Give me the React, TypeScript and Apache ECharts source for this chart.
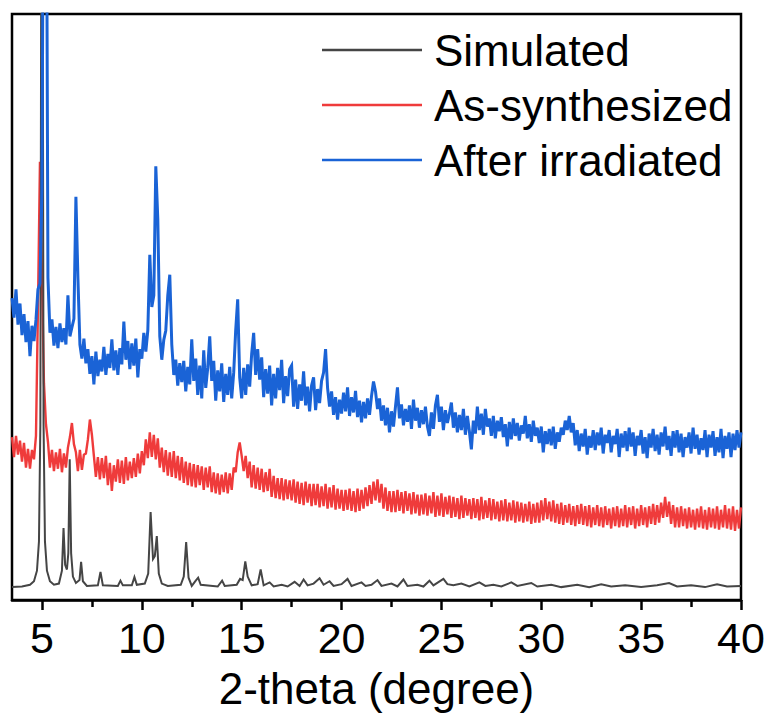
import React, { useEffect, useRef } from "react";
import * as echarts from "echarts";

const FONT = "'Liberation Sans', Arial, sans-serif";
const X_TICKS = [5, 10, 15, 20, 25, 30, 35, 40];
const X_MINOR_TICKS = [7.5, 12.5, 17.5, 22.5, 27.5, 32.5, 37.5];
const SERIES_NAMES = ["Simulated", "As-synthesized", "After irradiated"];
const SERIES_COLORS = ["#454545", "#ef3b3b", "#1a63d6"];
const X_TITLE = "2-theta (degree)";

// measured scans: sampled every 0.1 degree from 3.5 to 40
const SCAN_START = 3.5;
const SCAN_STEP = 0.1;

// simulated pattern: [2-theta, intensity]
const simulated: [number, number][] = [
  [3.5, 2.2], [4.0, 2.3], [4.4, 2.6], [4.6, 3.2], [4.75, 5.0], [4.85, 10], [4.92, 30], [4.97, 120],
  [5.0, 200], [5.03, 120], [5.08, 30], [5.15, 10], [5.25, 5.0], [5.4, 3.2], [5.6, 2.6], [5.85, 2.8],
  [6.0, 5.0], [6.08, 12.3], [6.16, 6.0], [6.25, 5.2], [6.32, 8.0], [6.39, 24.0], [6.46, 8.0], [6.55, 4.0],
  [6.7, 2.9], [6.88, 3.4], [6.96, 6.5], [7.05, 3.2], [7.25, 2.4], [7.8, 2.5], [7.93, 4.8], [8.05, 2.5],
  [8.8, 2.4], [8.93, 3.3], [9.05, 2.5], [9.5, 2.5], [9.63, 3.9], [9.75, 2.6], [10.15, 2.8], [10.32, 4.5],
  [10.44, 15.0], [10.56, 7.0], [10.65, 7.5], [10.75, 10.9], [10.85, 4.5], [11.0, 2.8], [11.3, 2.4],
  [11.95, 2.6], [12.1, 4.0], [12.22, 9.9], [12.34, 3.8], [12.5, 2.4], [12.7, 3.3], [12.82, 3.8],
  [12.95, 2.6], [13.8, 2.3], [14.02, 3.3], [14.15, 2.4], [14.75, 2.6], [14.92, 3.6], [15.05, 3.4],
  [15.18, 6.6], [15.3, 4.0], [15.5, 2.5], [15.8, 2.7], [15.95, 5.2], [16.1, 2.5], [16.4, 3.0],
  [16.6, 2.3], [17.0, 2.6], [17.3, 2.3], [17.65, 3.1], [17.9, 2.4], [18.1, 3.5], [18.3, 2.5],
  [18.6, 2.8], [18.9, 3.7], [19.1, 2.6], [19.4, 3.2], [19.6, 2.4], [20.0, 2.7], [20.3, 3.6],
  [20.5, 2.4], [21.0, 3.0], [21.2, 2.4], [21.5, 2.6], [21.8, 3.4], [22.0, 2.4], [22.5, 2.8],
  [22.8, 2.3], [23.1, 3.5], [23.3, 2.4], [23.8, 2.6], [24.1, 2.3], [24.4, 3.3], [24.6, 2.5],
  [25.1, 3.6], [25.3, 2.7], [25.6, 2.5], [26.0, 2.8], [26.4, 2.3], [26.9, 3.0], [27.2, 2.4],
  [27.6, 2.6], [28.0, 2.3], [28.5, 3.0], [28.8, 2.4], [29.5, 2.9], [29.8, 2.3], [30.5, 2.6],
  [31.0, 2.2], [31.8, 2.6], [32.4, 2.2], [33.0, 2.7], [33.5, 2.3], [34.2, 2.5], [35.0, 2.2],
  [35.8, 2.5], [36.4, 2.9], [36.8, 2.3], [37.5, 2.5], [38.2, 2.2], [38.8, 2.7], [39.3, 2.3], [40.0, 2.4],
];

// as-synthesized scan (offset upward), one value per 0.1 degree
const asSynthesized: number[] = [
  27.8, 24.4, 28.0, 24.8, 27.2, 23.6, 26.8, 22.6, 25.8, 22.4,
  25.6, 24.0, 28.0, 50.0, 74.8, 55.0, 37.0, 30.0, 27.0, 22.6,
  25.6, 22.0, 25.2, 22.4, 25.8, 21.8, 25.0, 22.6, 26.0, 27.8,
  30.2, 26.6, 25.2, 22.0, 25.6, 22.2, 24.8, 25.0, 27.4, 30.8,
  28.2, 24.6, 21.0, 24.4, 20.6, 24.2, 20.8, 24.6, 19.6, 23.4,
  18.6, 23.0, 20.2, 24.0, 20.0, 23.8, 19.8, 24.4, 20.4, 23.6,
  20.8, 24.2, 21.0, 25.0, 21.6, 25.4, 23.0, 27.4, 24.2, 28.6,
  24.4, 28.2, 24.0, 27.6, 22.6, 26.0, 21.8, 25.6, 21.2, 25.2,
  21.0, 25.4, 20.8, 24.6, 20.4, 24.4, 20.0, 23.6, 19.6, 23.4,
  19.4, 23.2, 19.2, 23.0, 19.6, 22.8, 18.8, 22.6, 19.2, 22.8,
  18.4, 21.8, 18.2, 21.6, 18.0, 21.4, 18.4, 21.8, 18.2, 21.6,
  18.8, 22.6, 21.8, 25.2, 26.9, 24.6, 22.0, 24.6, 20.8, 23.6,
  19.2, 23.0, 19.0, 22.6, 18.8, 22.4, 18.4, 21.8, 18.6, 22.4,
  17.6, 21.2, 17.4, 20.8, 17.2, 20.8, 17.0, 20.6, 17.2, 20.4,
  17.0, 20.6, 16.6, 20.2, 16.4, 20.0, 16.2, 20.2, 16.6, 19.8,
  16.0, 19.8, 16.2, 19.8, 15.8, 19.4, 16.0, 19.8, 15.6, 19.2,
  15.8, 19.6, 15.4, 19.0, 15.6, 18.8, 15.2, 18.8, 15.4, 19.0,
  15.2, 18.6, 15.0, 19.0, 15.2, 18.8, 15.6, 19.2, 16.0, 19.6,
  16.4, 20.2, 17.0, 20.6, 16.6, 19.8, 15.6, 19.2, 15.2, 18.6,
  15.0, 18.6, 15.0, 18.8, 15.2, 18.4, 14.8, 18.6, 15.2, 18.2,
  14.6, 18.4, 14.8, 18.0, 14.4, 18.0, 14.6, 18.2, 14.4, 17.8,
  14.8, 18.4, 14.2, 17.8, 14.4, 18.2, 14.2, 17.6, 14.6, 17.8,
  14.0, 17.6, 14.2, 17.4, 13.8, 17.8, 14.0, 17.4, 14.4, 17.2,
  13.8, 17.4, 14.0, 17.2, 13.6, 17.6, 13.8, 17.0, 14.0, 17.4,
  13.6, 17.2, 13.8, 16.8, 13.4, 17.0, 13.6, 17.2, 13.4, 16.6,
  13.6, 17.0, 13.2, 16.8, 13.4, 16.6, 13.2, 16.4, 13.4, 16.8,
  13.0, 16.4, 13.2, 16.6, 13.2, 17.0, 13.6, 17.4, 13.8, 16.8,
  13.4, 17.0, 13.2, 16.4, 13.0, 16.6, 12.8, 16.2, 13.2, 16.4,
  12.8, 16.0, 12.6, 16.2, 13.0, 16.4, 12.8, 16.0, 12.6, 16.2,
  12.4, 15.8, 12.8, 16.2, 12.6, 15.8, 12.4, 16.0, 12.8, 15.6,
  12.2, 15.8, 12.6, 16.0, 12.4, 15.6, 12.6, 16.2, 12.4, 15.8,
  12.8, 16.0, 12.2, 15.6, 12.6, 16.2, 12.8, 15.8, 12.4, 16.0,
  13.0, 16.4, 12.8, 16.2, 13.2, 16.6, 14.0, 17.6, 14.2, 16.8,
  13.0, 16.2, 12.4, 15.8, 12.4, 16.0, 12.6, 15.6, 12.2, 15.8,
  12.4, 15.4, 12.0, 15.6, 12.4, 16.0, 12.2, 15.4, 12.0, 15.8,
  12.4, 15.6, 12.2, 16.0, 12.0, 15.4, 12.4, 16.2, 12.2, 15.6,
  12.0, 16.0, 11.8, 15.4, 12.2, 15.8,
];

// after-irradiation scan (offset further upward), one value per 0.1 degree
const afterIrradiated: number[] = [
  51.5, 48.2, 53.0, 47.0, 50.6, 45.2, 48.8, 44.0, 47.6, 41.6,
  46.8, 44.2, 47.8, 53.0, 54.0, 70.0, 150, 150, 55.0, 45.6,
  47.9, 43.4, 46.6, 43.0, 47.2, 44.0, 46.4, 43.6, 52.0, 45.0,
  46.5, 48.0, 68.8, 55.0, 43.6, 41.2, 44.6, 40.4, 42.8, 38.6,
  41.6, 36.8, 42.4, 38.2, 41.0, 39.0, 43.2, 38.4, 42.0, 39.6,
  44.5, 39.2, 42.6, 38.4, 43.0, 40.2, 47.5, 41.0, 44.2, 39.4,
  43.8, 40.0, 44.6, 38.0, 42.8, 41.2, 45.6, 42.4, 46.0, 58.9,
  50.0, 52.0, 74.0, 65.0, 45.0, 41.0, 44.4, 46.0, 52.0, 55.5,
  43.6, 38.4, 41.0, 36.6, 40.4, 37.2, 40.8, 35.6, 39.8, 36.8,
  44.5, 37.4, 41.2, 35.0, 40.0, 34.4, 42.6, 36.2, 39.6, 45.0,
  37.4, 40.8, 34.0, 39.2, 35.6, 40.4, 33.8, 38.6, 35.0, 39.8,
  34.4, 38.8, 46.0, 51.3, 38.0, 34.4, 39.6, 35.0, 40.2, 36.4,
  42.0, 45.6, 38.4, 42.8, 37.6, 41.4, 34.6, 39.4, 35.2, 40.0,
  33.2, 38.6, 34.4, 39.6, 35.8, 41.0, 33.6, 38.2, 34.8, 39.4,
  40.0, 33.0, 37.6, 32.6, 36.8, 34.0, 39.0, 33.2, 36.4, 32.2,
  36.6, 38.0, 32.4, 36.0, 33.6, 37.4, 38.8, 42.8, 36.2, 33.0,
  35.6, 31.6, 34.6, 30.8, 34.2, 31.8, 35.4, 32.2, 36.3, 31.4,
  34.6, 32.0, 35.7, 31.2, 34.0, 30.3, 33.8, 31.0, 34.4, 31.6,
  34.8, 37.3, 35.6, 32.6, 34.4, 30.6, 33.2, 29.8, 32.8, 28.6,
  32.2, 29.6, 33.0, 36.3, 31.0, 33.4, 29.8, 32.6, 30.4, 33.2,
  29.2, 34.2, 30.6, 32.8, 29.4, 32.4, 30.0, 33.0, 29.6, 28.0,
  32.0, 29.2, 33.2, 35.0, 30.4, 33.0, 29.0, 32.4, 30.2, 31.8,
  33.7, 29.4, 32.0, 28.6, 31.6, 29.0, 32.6, 28.2, 31.4, 28.8,
  25.7, 30.6, 28.4, 33.0, 29.0, 31.8, 28.2, 32.6, 29.6, 31.0,
  28.0, 31.4, 27.6, 30.6, 28.8, 31.2, 27.8, 30.0, 26.2, 30.4,
  27.4, 31.0, 28.0, 30.2, 27.2, 29.8, 28.4, 31.4, 27.6, 30.0,
  27.0, 30.6, 28.0, 29.4, 26.8, 29.6, 25.2, 28.8, 26.6, 29.2,
  26.4, 29.6, 25.8, 28.6, 27.0, 29.4, 28.2, 30.6, 29.0, 31.4,
  28.6, 30.2, 26.4, 29.0, 25.4, 28.4, 26.2, 29.2, 24.8, 28.0,
  26.0, 29.0, 25.6, 28.6, 26.4, 29.4, 25.0, 28.2, 26.8, 29.0,
  25.2, 28.0, 26.6, 29.2, 24.4, 28.4, 26.0, 28.8, 25.4, 29.4,
  26.2, 28.6, 24.6, 28.0, 26.4, 29.0, 25.0, 27.8, 24.2, 28.4,
  26.0, 29.2, 25.4, 28.2, 24.8, 28.6, 26.2, 29.6, 25.6, 28.0,
  24.6, 28.8, 26.0, 29.0, 25.2, 28.4, 24.4, 27.8, 26.0, 28.6,
  25.0, 29.4, 25.8, 28.2, 24.8, 27.6, 25.6, 29.0, 24.4, 28.2,
  26.0, 28.8, 24.6, 27.8, 25.2, 29.2, 24.2, 28.0, 25.8, 28.6,
  24.4, 28.4, 25.6, 29.0, 26.0, 28.6,
];

function toScan(values: number[]): [number, number][] {
  return values.map((v, i) => [Math.round((SCAN_START + i * SCAN_STEP) * 100) / 100, v]);
}

export default function App() {
  const ref = useRef<HTMLDivElement>(null);

  useEffect(() => {
    document.body.style.margin = "0";
    if (!ref.current) return;
    const chart = echarts.init(ref.current, undefined, { renderer: "svg" });
    const lineSeries = (name: string, data: [number, number][], color: string, z: number, width: number) => ({
      name,
      type: "line",
      data,
      z,
      showSymbol: false,
      symbol: "none",
      clip: true,
      silent: true,
      itemStyle: { color },
      lineStyle: { color, width, join: "miter" },
      emphasis: { disabled: true },
    });
    chart.setOption({
      animation: false,
      backgroundColor: "#ffffff",
      color: SERIES_COLORS,
      grid: {
        left: 12,
        right: 28,
        top: 14,
        bottom: 114,
        show: true,
        borderColor: "#000",
        borderWidth: 2.5,
        backgroundColor: "transparent",
      },
      legend: {
        orient: "vertical",
        left: 322,
        top: 28,
        padding: 0,
        itemGap: 11,
        itemWidth: 100,
        itemHeight: 2.5,
        icon: "rect",
        selectedMode: false,
        data: SERIES_NAMES,
        textStyle: { fontSize: 44, color: "#000", fontFamily: FONT, padding: [0, 0, 0, 7] },
      },
      xAxis: [
        {
          type: "value",
          min: 3.5,
          max: 40,
          position: "bottom",
          name: X_TITLE,
          nameLocation: "middle",
          nameGap: 66,
          nameTextStyle: { fontSize: 44, color: "#000", fontFamily: FONT },
          axisLine: { show: true, onZero: false, lineStyle: { color: "#000", width: 2.5 } },
          axisTick: { show: true, inside: false, length: 10, customValues: X_TICKS, lineStyle: { color: "#000", width: 2.5 } },
          axisLabel: { show: true, customValues: X_TICKS, margin: 16, fontSize: 43, color: "#000", fontFamily: FONT },
          splitLine: { show: false },
        },
        {
          type: "value",
          min: 3.5,
          max: 40,
          position: "bottom",
          axisLine: { show: false, onZero: false },
          axisTick: { show: true, inside: false, length: 7, customValues: X_MINOR_TICKS, lineStyle: { color: "#000", width: 2.5 } },
          axisLabel: { show: false },
          splitLine: { show: false },
        },
      ],
      yAxis: { type: "value", min: 0, max: 100, show: false, splitLine: { show: false } },
      series: [
        lineSeries(SERIES_NAMES[0], simulated, SERIES_COLORS[0], 3, 2),
        lineSeries(SERIES_NAMES[1], toScan(asSynthesized), SERIES_COLORS[1], 2, 2.4),
        lineSeries(SERIES_NAMES[2], toScan(afterIrradiated), SERIES_COLORS[2], 4, 3),
      ],
    });
    return () => chart.dispose();
  }, []);

  return <div ref={ref} style={{ position: "absolute", left: 0, top: 0, width: 769, height: 715 }} />;
}
